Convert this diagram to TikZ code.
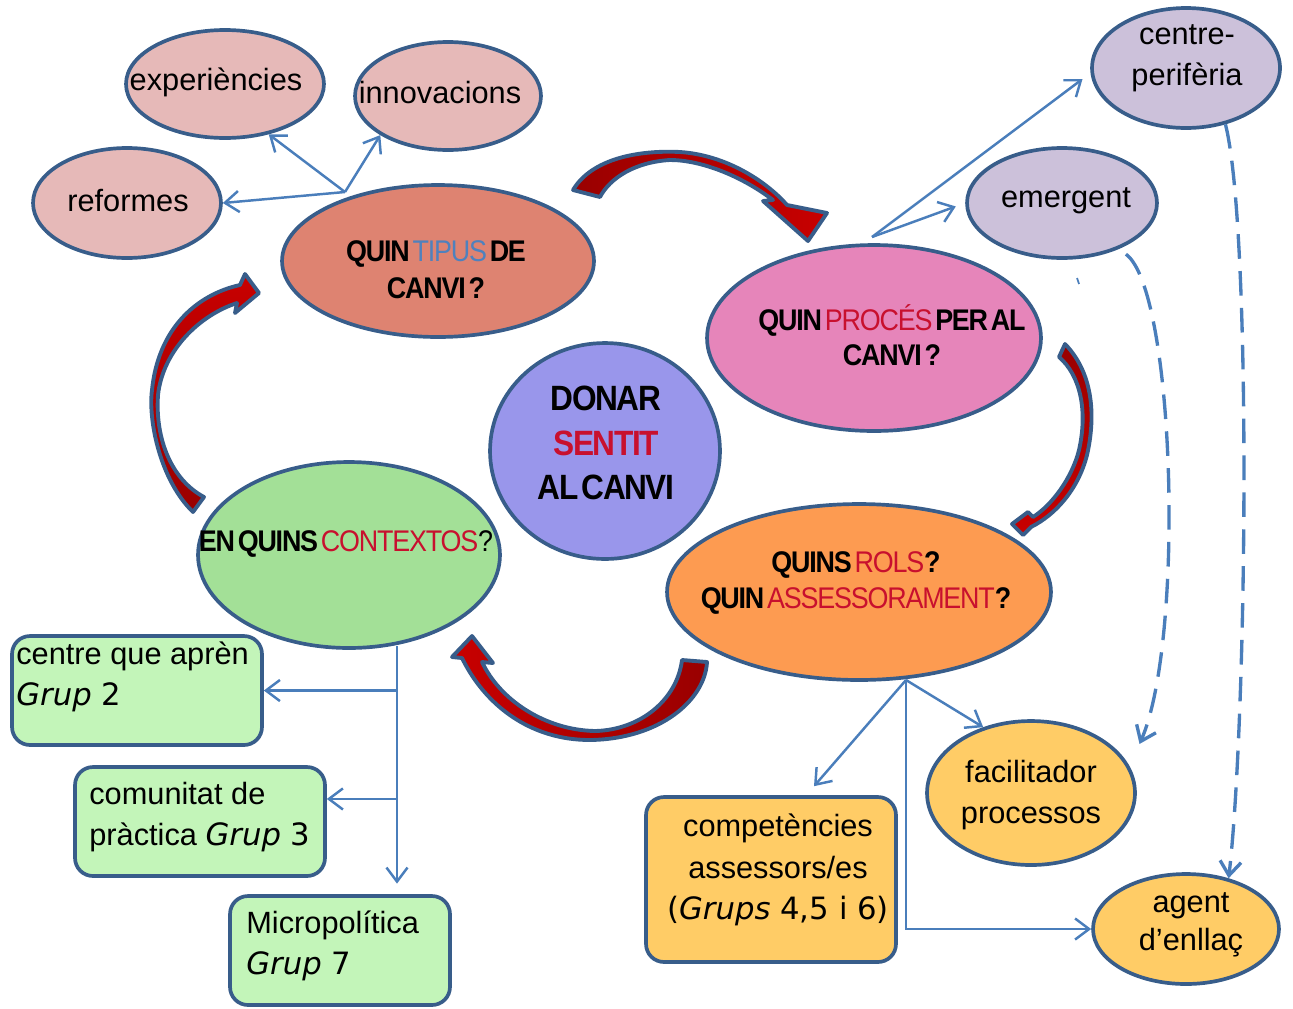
\documentclass[tikz,border=0pt]{standalone}
\usepackage{fontspec}
\setmainfont{Liberation Sans}
\newfontfamily\headfont[FakeStretch=0.9,LetterSpace=-4,WordSpace=0.45]{Liberation Sans}
\newfontfamily\comicfont{DejaVu Sans}
\usetikzlibrary{shapes.geometric,arrows.meta,calc}

\definecolor{outl}{HTML}{385D8A}
\definecolor{connblue}{HTML}{4A7EBB}
\definecolor{pinkA}{HTML}{E6B9B8}
\definecolor{salmon}{HTML}{DE8371}
\definecolor{procpink}{HTML}{E685BA}
\definecolor{lav}{HTML}{9996EB}
\definecolor{ctxgreen}{HTML}{A3E097}
\definecolor{rolsorange}{HTML}{FD9B51}
\definecolor{lilac}{HTML}{CCC1DA}
\definecolor{gold}{HTML}{FFCC66}
\definecolor{boxgreen}{HTML}{C3F5B9}
\definecolor{redtxt}{HTML}{C8102E}
\definecolor{bluetxt}{HTML}{4F81BD}
\definecolor{arrdark}{HTML}{990000}
\definecolor{arrbright}{HTML}{C80000}

\tikzset{
  bubble/.style={ellipse, draw=outl, line width=2.1pt, inner sep=0pt},
  boxnode/.style={rectangle, rounded corners=0.36cm, draw=outl, line width=2.1pt, inner sep=0pt},
  body/.style={font={\fontsize{17.5}{23.5}\selectfont}, inner sep=0pt, align=center},
  boxtext/.style={body, align=left, anchor=west},
  head/.style={font={\headfont\bfseries\fontsize{17}{21}\selectfont}, inner sep=0pt, align=center},
  conn/.style={draw=connblue, line width=1.4pt, -{Straight Barb[length=8pt,width=12pt]}},
  dashconn/.style={conn, line width=1.9pt, dash pattern=on 14pt off 7pt},
  bigarrow/.style={draw=outl, line width=2.2pt, line join=round},
}

\begin{document}
\begin{tikzpicture}[x=0.02cm,y=-0.02cm]
\useasboundingbox (0,0) rectangle (1293,1008);

% ---------- ellipses ----------
\node[bubble, fill=pinkA, minimum width=3.96cm, minimum height=2.16cm] (exper) at (225,84) {};
\node[bubble, fill=pinkA, minimum width=3.72cm, minimum height=2.16cm] (innov) at (448,96) {};
\node[bubble, fill=pinkA, minimum width=3.76cm, minimum height=2.2cm] (reform) at (127,203) {};
\node[bubble, fill=salmon, minimum width=6.24cm, minimum height=3.04cm] (tipus) at (438,261) {};
\node[bubble, fill=lilac, minimum width=3.76cm, minimum height=2.4cm] (cp) at (1186,68) {};
\node[bubble, fill=lilac, minimum width=3.8cm, minimum height=2.2cm] (emerg) at (1062,203) {};
\node[bubble, fill=procpink, minimum width=6.68cm, minimum height=3.72cm] (proces) at (874,338) {};
\node[bubble, fill=lav, minimum width=4.6cm, minimum height=4.32cm] (donar) at (605,451) {};
\node[bubble, fill=ctxgreen, minimum width=6.04cm, minimum height=3.72cm] (ctx) at (349,555) {};
\node[bubble, fill=rolsorange, minimum width=7.68cm, minimum height=3.52cm] (rols) at (859,592) {};
\node[bubble, fill=gold, minimum width=4.16cm, minimum height=2.88cm] (facil) at (1031,793) {};
\node[bubble, fill=gold, minimum width=3.72cm, minimum height=2.2cm] (agent) at (1186,929) {};

% ---------- rounded boxes ----------
\node[boxnode, fill=boxgreen, minimum width=5cm, minimum height=2.18cm] (box1) at (137,690.5) {};
\node[boxnode, fill=boxgreen, minimum width=5cm, minimum height=2.18cm] (box2) at (200,821.5) {};
\node[boxnode, fill=boxgreen, minimum width=4.4cm, minimum height=2.18cm] (micro) at (340,950.5) {};
\node[boxnode, fill=gold, minimum width=5cm, minimum height=3.3cm] (comp) at (771,879.5) {};

% ---------- texts ----------
\node[body] (exper-t) at (216,82) {experiències};
\node[body] (innov-t) at (440,93) {innovacions};
\node[body] (reform-t) at (128,201) {reformes};
\node[body] (emerg-t) at (1066,201) {emergent};
\node[body] (cp-t) at (1187,58) {centre-\\perifèria};
\node[body] (facil-t) at (1031,795) {facilitador\\processos};
\node[body, font={\fontsize{17.5}{21.5}\selectfont}] (agent-t) at (1191,925) {agent\\d’enllaç};
\node[body] (comp-t) at (778,870) {competències\\assessors/es\\{\comicfont({\itshape Grups} 4,5 i 6)}};
\node[boxtext] (box1-t) at (16,677) {centre que aprèn\\{\comicfont{\itshape Grup} 2}};
\node[boxtext] (box2-t) at (89,817) {comunitat de\\pràctica {\comicfont{\itshape Grup} 3}};
\node[boxtext] (micro-t) at (246,946) {Micropolítica\\{\comicfont{\itshape Grup} 7}};

\node[head] (tipus-t) at (436,270) {QUIN {\mdseries\color{bluetxt}TIPUS} DE\\CANVI ?};
\node[head, font={\headfont\bfseries\fontsize{17}{20}\selectfont}] (proces-t) at (892,335) {QUIN {\mdseries\color{redtxt}PROCÉS} PER AL\\CANVI ?};
\node[head, font={\headfont\bfseries\fontsize{20}{25.5}\selectfont}] (donar-t) at (606,443) {DONAR\\{\color{redtxt}SENTIT}\\AL CANVI};
\node[head] (ctx-t) at (346,544) {EN QUINS {\mdseries\color{redtxt}CONTEXTOS}{\mdseries ?}};
\node[head, font={\headfont\bfseries\fontsize{17}{20}\selectfont}] (rols-t) at (856,583) {QUINS {\mdseries\color{redtxt}ROLS}?\\QUIN {\mdseries\color{redtxt}ASSESSORAMENT}?};

% ---------- connectors ----------
\coordinate (tipfork) at (345,192);
\draw[conn] (tipfork) -- (reform.east);
\draw[conn] (tipfork) -- (exper.-49);
\draw[conn] (tipfork) -- (innov.210);

\coordinate (procfork) at (872,237);
\draw[conn, shorten >=5.7pt] (procfork) -- (cp.183);
\draw[conn, shorten >=5.7pt] (procfork) -- (emerg.west);

\coordinate (rolsfork) at (906,680);
\draw[conn] (rolsfork) -- ($(comp.north)+(43,-9)$);
\draw[conn] (rolsfork) -- (facil.126);
\draw[conn] (rolsfork) |- (agent.west);

\coordinate (ctxfork) at (397,646);
\coordinate (b2in) at ($(box2.north east)!0.3!(box2.south east)$);
\draw[conn, shorten >=6pt] (ctxfork) -- (ctxfork |- micro.north);
\draw[conn] (ctxfork |- box1.east) -- (box1.east);
\draw[conn] (ctxfork |- b2in) -- (b2in);

\draw[dashconn] (cp.-55) .. controls (1252,230) and (1247,720) .. (agent.50);
\draw[dashconn, shorten <=5pt] (emerg.-39) .. controls (1175,290) and (1185,640) .. ($(facil.30)+(27,-2)$);
\draw[connblue, line width=1pt] (1077,278) -- (1079,284);

% ---------- curved block arrows ----------
% tipus -> proces
\path[bigarrow, left color=arrdark, right color=arrbright]
  (573,190) .. controls (592,158) and (640,150) .. (680,152)
  .. controls (725,155) and (765,180) .. (787,205)
  -- (827,213) -- (808,241) -- (763,201) -- (773,200)
  .. controls (740,175) and (700,160) .. (670,160)
  .. controls (635,162) and (610,178) .. (600,197) -- cycle;
% proces -> rols
\path[bigarrow, top color=arrdark, bottom color=arrbright]
  (1065,344) .. controls (1095,375) and (1095,420) .. (1087,455)
  .. controls (1078,490) and (1055,515) .. (1031,527)
  -- (1023,535) -- (1012,524) -- (1028,512) -- (1033,517)
  .. controls (1052,505) and (1072,478) .. (1079,450)
  .. controls (1088,410) and (1080,375) .. (1059,357) -- cycle;
% rols -> ctx
\path[bigarrow, left color=arrbright, right color=arrdark]
  (707,662) .. controls (705,700) and (660,739) .. (590,740)
  .. controls (530,740) and (485,705) .. (462,658)
  -- (452,657) -- (472,636) -- (493,663) -- (482,662)
  .. controls (500,700) and (545,730) .. (595,731)
  .. controls (640,730) and (677,700) .. (682,660) -- cycle;
% ctx -> tipus
\path[bigarrow, top color=arrbright, bottom color=arrdark]
  (193,512) .. controls (160,480) and (148,420) .. (152,390)
  .. controls (158,330) and (195,295) .. (240,285)
  -- (245,274) -- (259,293) -- (235,313) -- (237,303)
  .. controls (200,315) and (163,350) .. (158,395)
  .. controls (155,440) and (172,480) .. (204,497) -- cycle;
\end{tikzpicture}
\end{document}
